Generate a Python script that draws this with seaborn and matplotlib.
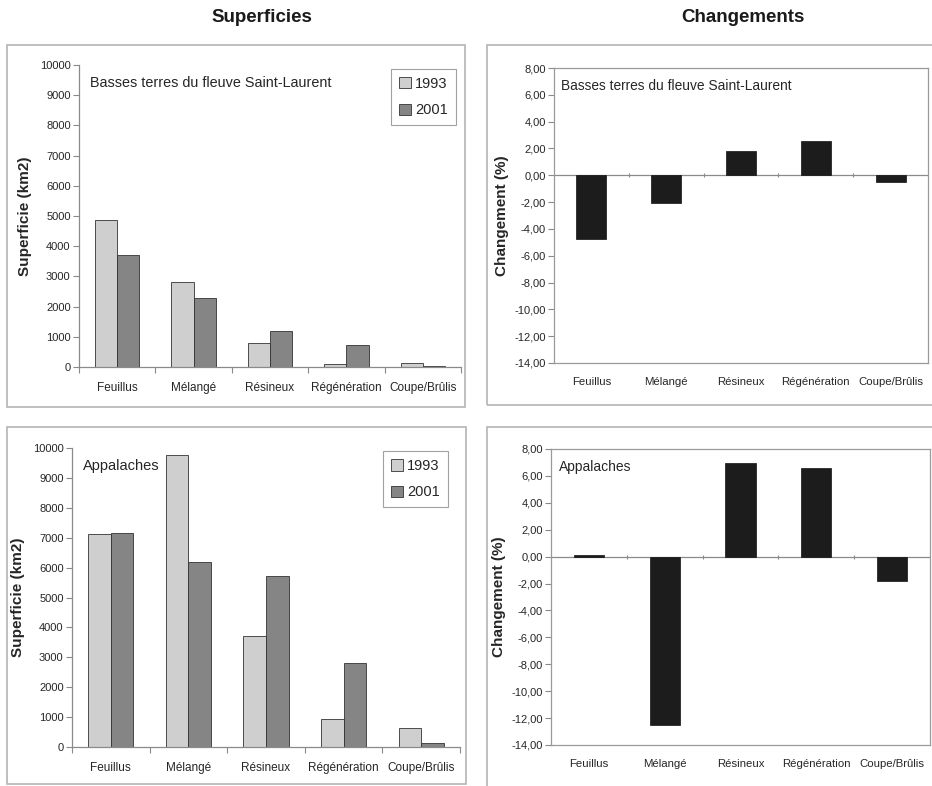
import matplotlib
matplotlib.use("Agg")
import matplotlib.pyplot as plt
import seaborn as sns
import pandas as pd
import numpy as np
from matplotlib.patches import Rectangle
from matplotlib.ticker import FuncFormatter, FixedLocator

categories = ["Feuillus", "Mélangé", "Résineux", "Régénération", "Coupe/Brûlis"]
years = ["1993", "2001"]

bt_1993 = [4870, 2820, 790, 110, 140]
bt_2001 = [3720, 2300, 1190, 740, 40]
ap_1993 = [7130, 9760, 3720, 920, 620]
ap_2001 = [7160, 6190, 5720, 2820, 140]

bt_change = [-4.75, -2.10, 1.80, 2.55, -0.50]
ap_change = [0.12, -12.55, 6.95, 6.60, -1.80]

region_bt = "Basses terres du fleuve Saint-Laurent"
region_ap = "Appalaches"

sns.set_theme(style="white")
plt.rcParams['font.family'] = ['Liberation Sans', 'DejaVu Sans']

W, H = 932, 786
fig = plt.figure(figsize=(W / 100, H / 100), dpi=100)
fig.patch.set_facecolor("white")

def fr(x0, y0, x1, y1):
    return [x0 / W, 1 - y1 / H, (x1 - x0) / W, (y1 - y0) / H]

# panel frames
for (x0, y0, x1, y1) in [(7, 45, 465, 407), (487, 45, 940, 405), (7, 427, 466, 784), (487, 427, 940, 790)]:
    fig.patches.append(Rectangle((x0 / W, 1 - y1 / H), (x1 - x0) / W, (y1 - y0) / H,
                                 transform=fig.transFigure, fill=False,
                                 edgecolor="#b4b4b4", linewidth=1.2))

fig.text(262 / W, 1 - 18 / H, "Superficies", ha="center", va="center",
         fontsize=13.5, fontweight="bold", color="#1a1a1a")
fig.text(743 / W, 1 - 18 / H, "Changements", ha="center", va="center",
         fontsize=13.5, fontweight="bold", color="#1a1a1a")

pal = {"1993": "#cfcfcf", "2001": "#858585"}
txt = "#262626"

def area_panel(rect, v93, v01, region, fs_region, leg_anchor):
    ax = fig.add_axes(rect)
    df = pd.DataFrame({"cat": categories * 2,
                       "year": [years[0]] * 5 + [years[1]] * 5,
                       "val": v93 + v01})
    sns.barplot(data=df, x="cat", y="val", hue="year", palette=pal, ax=ax,
                width=0.58, edgecolor="#333333", linewidth=0.6, saturation=1)
    ax.set_xlim(-0.5, 4.5)
    ax.set_ylim(0, 10000)
    ax.set_yticks(np.arange(0, 10001, 1000))
    ax.set_xlabel("")
    ax.set_ylabel("Superficie (km2)", fontsize=11, fontweight="bold", color=txt, labelpad=6)
    for s in ["top", "right"]:
        ax.spines[s].set_visible(False)
    for s in ["left", "bottom"]:
        ax.spines[s].set_color("#8a8a8a")
        ax.spines[s].set_linewidth(0.9)
    ax.tick_params(axis="y", which="major", left=True, length=4, width=0.8, color="#8a8a8a",
                   labelsize=8, labelcolor=txt, pad=2)
    ax.tick_params(axis="x", which="major", bottom=False, labelsize=8.5, labelcolor=txt, pad=5)
    ax.xaxis.set_minor_locator(FixedLocator(np.arange(-0.5, 4.6, 1)))
    ax.tick_params(axis="x", which="minor", bottom=True, length=4, width=0.8, color="#8a8a8a")
    ax.text(0.028, 0.94, region, transform=ax.transAxes,
            fontsize=fs_region, color=txt, va="center", ha="left")
    leg = ax.legend(loc="upper right", bbox_to_anchor=leg_anchor, borderaxespad=0,
                    frameon=True, fontsize=10.5, handlelength=0.8, handleheight=0.8,
                    handletextpad=0.3, labelspacing=0.85, borderpad=0.55,
                    fancybox=False, title=None)
    leg.get_frame().set_edgecolor("#8a8a8a")
    leg.get_frame().set_linewidth(0.8)
    for t in leg.get_texts():
        t.set_color(txt)
    return ax

def change_panel(rect, vals, region, fs_region):
    ax = fig.add_axes(rect)
    df = pd.DataFrame({"cat": categories, "val": vals})
    sns.barplot(data=df, x="cat", y="val", color="#1c1c1c", ax=ax, width=0.4,
                edgecolor="#111111", linewidth=0.5, saturation=1)
    ax.set_xlim(-0.5, 4.5)
    ax.set_ylim(-14, 8)
    ax.set_yticks(np.arange(-14, 8.1, 2))
    ax.yaxis.set_major_formatter(FuncFormatter(lambda v, p: f"{v:.2f}".replace(".", ",")))
    ax.set_xlabel("")
    ax.set_ylabel("Changement (%)", fontsize=11, fontweight="bold", color=txt, labelpad=4)
    for s in ax.spines.values():
        s.set_color("#9a9a9a")
        s.set_linewidth(0.9)
    ax.axhline(0, color="#8a8a8a", linewidth=0.9, zorder=0.5)
    ax.vlines(np.arange(0.5, 4.0, 1), -0.15, 0.15, color="#8a8a8a", linewidth=0.8)
    ax.tick_params(axis="y", which="major", left=True, length=4, width=0.8, color="#8a8a8a",
                   labelsize=8, labelcolor=txt, pad=2)
    ax.tick_params(axis="x", which="major", bottom=False, labelsize=8.2, labelcolor=txt, pad=4)
    ax.text(0.02, 0.94, region, transform=ax.transAxes,
            fontsize=fs_region, color=txt, va="center", ha="left")
    return ax

area_panel(fr(79, 65, 461, 367), bt_1993, bt_2001, region_bt, 10.4, (0.987, 0.987))
change_panel(fr(554, 68, 928, 363), bt_change, region_bt, 9.9)
area_panel(fr(72, 448, 460, 747), ap_1993, ap_2001, region_ap, 10.5, (0.969, 0.99))
change_panel(fr(551, 449, 930, 745), ap_change, region_ap, 10)

fig.savefig("out.png", dpi=100, facecolor="white")
